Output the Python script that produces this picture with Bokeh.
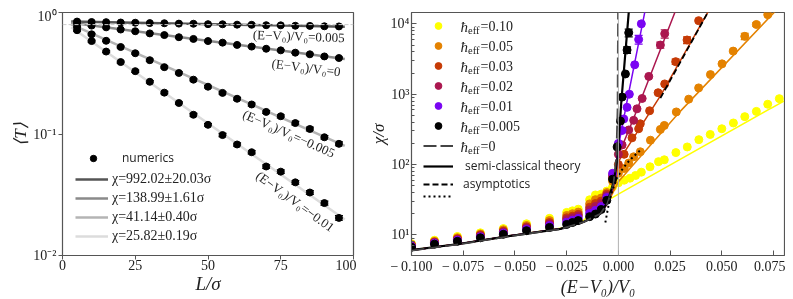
from bokeh.plotting import figure
from bokeh.layouts import row
from bokeh.models import (ColumnDataSource, Whisker, TeeHead, Legend, LegendItem,
                          FixedTicker, CustomJSTickFormatter, Span, Label)
from bokeh.core.properties import value
from bokeh.embed import file_html
from bokeh.resources import INLINE

SERIF = "Liberation Serif"
SANS = "Open Sans"
INK = "#222222"
FRAME = "#555555"

# ---------------- left panel: transmission vs length ----------------
L = [5, 10, 15, 20, 25, 30, 35, 40, 45, 50, 55, 60, 65, 70, 75, 80, 85, 90, 95]
T_p0005 = [0.842, 0.835, 0.833, 0.827, 0.824, 0.818, 0.816, 0.810, 0.808, 0.802,
           0.800, 0.794, 0.792, 0.786, 0.784, 0.778, 0.776, 0.770, 0.768]
E_p0005 = [0.009, 0.009, 0.009, 0.009, 0.009, 0.009, 0.009, 0.009, 0.009, 0.009,
           0.009, 0.009, 0.009, 0.009, 0.009, 0.009, 0.009, 0.009, 0.009]
T_0 = [0.812, 0.780, 0.755, 0.724, 0.701, 0.673, 0.652, 0.626, 0.606, 0.582,
       0.565, 0.541, 0.524, 0.503, 0.488, 0.467, 0.453, 0.435, 0.422]
E_0 = [0.010, 0.010, 0.009, 0.009, 0.009, 0.009, 0.008, 0.008, 0.008, 0.008,
       0.008, 0.008, 0.008, 0.007, 0.007, 0.007, 0.007, 0.007, 0.007]
T_m0005 = [0.760, 0.662, 0.585, 0.520, 0.462, 0.405, 0.355, 0.318, 0.280, 0.245,
           0.218, 0.195, 0.175, 0.152, 0.140, 0.123, 0.110, 0.094, 0.083]
E_m0005 = [0.012, 0.011, 0.010, 0.009, 0.008, 0.008, 0.007, 0.006, 0.006, 0.005,
           0.005, 0.005, 0.005, 0.004, 0.004, 0.004, 0.004, 0.003, 0.003]
T_m001 = [0.715, 0.582, 0.477, 0.391, 0.329, 0.269, 0.219, 0.180, 0.144, 0.119,
          0.098, 0.082, 0.0708, 0.054, 0.049, 0.040, 0.033, 0.027, 0.0204]
E_m001 = [0.012, 0.011, 0.009, 0.008, 0.007, 0.006, 0.005, 0.004, 0.004, 0.003,
          0.003, 0.0025, 0.0022, 0.0018, 0.0016, 0.0014, 0.0012, 0.0010, 0.0009]

fit_L = [3, 97]
fit_p0005 = [0.842, 0.765]
fit_0 = [0.822, 0.415]
fit_m0005 = [0.798, 0.080]
fit_m001 = [0.756, 0.0198]
fit_labels = ["χ=992.02±20.03σ", "χ=138.99±1.61σ", "χ=41.14±0.40σ", "χ=25.82±0.19σ"]
fit_colors = ["#555555", "#8a8a8a", "#b4b4b4", "#dcdcdc"]

ref_T = 0.795  # faint horizontal reference line

annot_text = ["(E−V₀)/V₀=0.005", "(E−V₀)/V₀=0", "(E−V₀)/V₀=−0.005", "(E−V₀)/V₀=−0.01"]
annot_L = [97.0, 95.5, 77.8, 80.0]
annot_T = [0.62, 0.325, 0.101, 0.0279]
annot_angle = [-2, -7, -24, -36]

L_ticks = [0, 25, 50, 75, 100]
T_ticks = [0.01, 0.1, 1.0]

# ---------------- right panel: chi vs energy ----------------
XL = [-0.1, -0.0889, -0.0778, -0.0667, -0.0556, -0.0444, -0.0333, -0.025, -0.0222,
      -0.0194, -0.0139, -0.0111, -0.0083, -0.0056, -0.0028]

x_h010 = XL + [0.0, 0.0028, 0.0056, 0.0083, 0.0111, 0.0153, 0.0194, 0.0222, 0.0278,
               0.0333, 0.0389, 0.0444, 0.05, 0.0556, 0.0611, 0.0667, 0.0722, 0.0778]
y_h010 = [7.5, 8.4, 9.5, 10.7, 12.3, 14.4, 17.2, 20.9, 22.0, 23.2, 31.6, 37, 38, 42, 48,
          55, 60, 64, 70, 78, 93, 110, 117, 148, 178, 226, 268, 323, 390, 480, 570, 720, 865]
x_h005 = XL + [0.0, 0.0028, 0.005, 0.0074, 0.0106, 0.0155, 0.0203, 0.0222, 0.028, 0.034,
               0.0388, 0.0445, 0.0501, 0.0555, 0.0611, 0.0667, 0.0722]
y_h005 = [7.3, 8.1, 9.1, 10.3, 11.8, 13.6, 16.0, 18.9, 20.0, 21.1, 27.6, 31.7, 33.5, 40, 58,
          75, 88, 105, 129, 152, 222, 316, 360, 560, 850, 1230, 1900, 2700, 4100, 6650, 9800, 13500]
x_h003 = XL + [0.0, 0.0028, 0.0066, 0.0098, 0.0106, 0.0151, 0.0192, 0.0224, 0.0277, 0.0332, 0.0388]
y_h003 = [7.1, 7.9, 8.8, 10.0, 11.3, 13.0, 15.0, 17.5, 18.5, 19.6, 24.7, 27.9, 30.3, 38, 65,
          100, 140, 240, 323, 380, 582, 1050, 1400, 2900, 5900, 11100]
x_h002 = XL + [0.0, 0.0018, 0.005, 0.0074, 0.009, 0.0115, 0.0147, 0.0203, 0.0224]
y_h002 = [7.0, 7.8, 8.6, 9.7, 11.0, 12.6, 14.4, 16.5, 17.5, 18.6, 22.7, 25.4, 28.1, 36, 70,
          140, 190, 310, 425, 620, 870, 1790, 5000, 7250]
x_h001 = XL + [0.0, 0.0018, 0.0026, 0.0042, 0.0053, 0.0079, 0.0098, 0.0111]
y_h001 = [6.85, 7.6, 8.4, 9.4, 10.6, 12.0, 13.6, 15.2, 16.2, 17.2, 20.3, 22.4, 25.4, 34, 75,
          200, 305, 445, 650, 1000, 2620, 6000, 10000]
x_h0005 = XL + [-0.0006, 0.001, 0.0018, 0.0034, 0.0042, 0.005]
y_h0005 = [6.7, 7.4, 8.1, 9.1, 10.2, 11.5, 12.8, 14.1, 15.0, 16.0, 18.2, 19.8, 23, 31, 62,
           178, 415, 910, 1940, 4250, 7480]

# points with visible error bars
eb_x = [0.005, 0.0042, 0.0098, 0.0224, 0.0203, 0.0332, 0.0277, 0.0611, 0.0667]
eb_y = [7480, 4250, 6000, 7250, 5000, 5900, 2900, 6650, 9800]
eb_err = [950, 450, 850, 1000, 500, 650, 250, 700, 600]
eb_series = ["0.005", "0.005", "0.01", "0.02", "0.02", "0.03", "0.03", "0.05", "0.05"]

# semi-classical theory curves
th_x_h010 = [-0.1, -0.0764, -0.0522, -0.028, -0.0169, -0.0087, 0.0, 0.08]
th_y_h010 = [6.1, 7.5, 9.7, 12.4, 16.0, 27.0, 38.0, 800.0]
th_x_h005 = [-0.1, -0.0764, -0.0522, -0.028, -0.0169, -0.0087, -0.004, 0.0, 0.03, 0.0775]
th_y_h005 = [6.07, 7.5, 9.7, 12.2, 15.3, 20.0, 33.0, 57.0, 575.0, 17000.0]
th_x_h003 = [-0.1, -0.0764, -0.0522, -0.028, -0.0169, -0.0087, -0.0053, -0.0024, 0.0, 0.0203, 0.0445]
th_y_h003 = [6.07, 7.5, 9.7, 12.2, 15.3, 20.0, 28.0, 45.0, 110.0, 945.0, 17000.0]
th_x_h002 = [-0.1, -0.0764, -0.0522, -0.028, -0.0169, -0.0087, -0.0053, -0.0024, 0.0, 0.0073, 0.0282]
th_y_h002 = [6.07, 7.5, 9.7, 12.2, 15.3, 20.0, 28.0, 50.0, 135.0, 447.0, 17000.0]
th_x_h001 = [-0.1, -0.0764, -0.0522, -0.028, -0.0169, -0.0087, -0.0053, -0.0024, 0.0, 0.0042, 0.0132]
th_y_h001 = [6.07, 7.5, 9.7, 12.2, 15.3, 20.0, 29.0, 50.0, 180.0, 800.0, 17000.0]
th_x_h0005 = [-0.1, -0.0764, -0.0522, -0.028, -0.0169, -0.0087, -0.0053, -0.0024, -0.0005, 0.00145, 0.0052]
th_y_h0005 = [6.07, 7.5, 9.7, 12.2, 15.3, 20.0, 29.0, 55.0, 117.0, 800.0, 17000.0]

# hbar_eff = 0 (classical) curve
cl_x = [-0.1, -0.0764, -0.0522, -0.028, -0.0169, -0.0087, -0.0053, -0.0024, -0.001, -0.0004, -0.00015]
cl_y = [6.0, 7.4, 9.6, 12.1, 15.2, 20.0, 28.0, 52.0, 130.0, 600.0, 20000.0]

# asymptotics
as_dash_x = [0.0203, 0.045]
as_dash_y = [880.0, 18000.0]
as_dot_x = [-0.0063, -0.0047, -0.003, -0.0006, 0.0018, 0.0042, 0.0066, 0.009, 0.0106]
as_dot_y = [15, 27, 42, 65, 85, 105, 124, 145, 160]

zero_x = 0.0
hbar_labels = ["0.10", "0.05", "0.03", "0.02", "0.01", "0.005"]
hbar_colors = ["#ffff00", "#e48200", "#c63a05", "#ab174f", "#7a05f2", "#000000"]

E_ticks = [-0.1, -0.075, -0.05, -0.025, 0.0, 0.025, 0.05, 0.075]
chi_ticks = [10, 100, 1000, 10000]
chi_minor = [m * 10 ** k for k in range(0, 5) for m in range(2, 10)]

LOG_FMT = """
const sup = {'-':'\u207b','0':'\u2070','1':'\u00b9','2':'\u00b2','3':'\u00b3','4':'\u2074','5':'\u2075'};
const e = Math.round(Math.log10(tick));
return '10' + String(e).split('').map(c => sup[c]).join('');
"""
E_FMT = "const v = Math.abs(tick) < 1e-9 ? 0 : tick; return (v < 0 ? '\u2212\u2009' : '') + Math.abs(v).toFixed(3);"


def style_axis(ax, inward):
    ax.axis_line_color = FRAME
    ax.major_tick_line_color = FRAME
    ax.minor_tick_line_color = FRAME
    ax.major_label_text_font = SERIF
    ax.major_label_text_font_size = "14px"
    ax.major_label_text_color = INK
    ax.axis_label_text_font = SERIF
    ax.axis_label_text_font_style = "italic"
    ax.axis_label_text_color = INK
    ax.axis_label_standoff = 0
    ax.major_label_standoff = 2
    if inward:
        ax.major_tick_in = 5
        ax.major_tick_out = 0
        ax.minor_tick_in = 3
        ax.minor_tick_out = 0
    else:
        ax.major_tick_in = 0
        ax.major_tick_out = 4
        ax.minor_tick_in = 0
        ax.minor_tick_out = 0


def frame_style(p):
    p.xgrid.visible = False
    p.ygrid.visible = False
    p.outline_line_color = FRAME
    p.outline_line_width = 1.2


H = 291

# ================= left figure =================
p1 = figure(width=348, height=H, x_range=(0, 100), y_range=(0.01, 1.0),
            y_axis_type="log", output_backend="svg", toolbar_location=None,
            min_border_left=54, min_border_right=3, min_border_top=4, min_border_bottom=H - 251)
frame_style(p1)
style_axis(p1.xaxis[0], inward=False)
style_axis(p1.yaxis[0], inward=False)
p1.xaxis.major_label_standoff = 0
p1.xaxis.ticker = FixedTicker(ticks=L_ticks)
p1.yaxis.ticker = FixedTicker(ticks=T_ticks, minor_ticks=[])
p1.yaxis.formatter = CustomJSTickFormatter(code=LOG_FMT)
p1.yaxis.axis_label = "⟨T⟩"
p1.yaxis.axis_label_text_font_size = "17px"
p1.xaxis.axis_label = "L/σ"
p1.xaxis.axis_label_text_font_size = "19px"

p1.add_layout(Span(location=ref_T, dimension="width", line_color="#cccccc",
                   line_width=1, line_dash="4 2"))

fit_renderers = []
for fy, col in zip([fit_p0005, fit_0, fit_m0005, fit_m001], fit_colors):
    fit_renderers.append(p1.line(fit_L, fy, line_color=col, line_width=2.5))

num_renderer = None
for T, E in [(T_p0005, E_p0005), (T_0, E_0), (T_m0005, E_m0005), (T_m001, E_m001)]:
    src = ColumnDataSource(dict(L=L, T=T, lo=[t - e for t, e in zip(T, E)],
                                hi=[t + e for t, e in zip(T, E)]))
    p1.add_layout(Whisker(source=src, base="L", lower="lo", upper="hi", dimension="height",
                          line_color="black", line_width=1.2,
                          lower_head=TeeHead(size=8, line_color="black", line_width=1.2),
                          upper_head=TeeHead(size=8, line_color="black", line_width=1.2)))
    r = p1.scatter("L", "T", source=src, size=7, color="black")
    if num_renderer is None:
        num_renderer = r

asrc_r = ColumnDataSource(dict(x=annot_L[:2], y=annot_T[:2], t=annot_text[:2], a=annot_angle[:2]))
p1.text("x", "y", text="t", angle="a", angle_units="deg", source=asrc_r,
        text_font=value(SERIF), text_font_size="13px", text_color=INK,
        text_align="right", text_baseline="middle")
asrc_c = ColumnDataSource(dict(x=annot_L[2:], y=annot_T[2:], t=annot_text[2:], a=annot_angle[2:]))
p1.text("x", "y", text="t", angle="a", angle_units="deg", source=asrc_c,
        text_font=value(SERIF), text_font_size="13px", text_color=INK,
        text_align="center", text_baseline="middle")

leg_num = Legend(items=[LegendItem(label="numerics", renderers=[num_renderer])],
                 location=(14, 89), padding=0, margin=0, spacing=0,
                 glyph_width=34, glyph_height=16, label_height=16, label_standoff=12,
                 label_text_font=SANS, label_text_font_size="12px", label_text_color=INK,
                 background_fill_alpha=0, border_line_alpha=0)
leg_fit = Legend(items=[LegendItem(label=lab, renderers=[r]) for lab, r in zip(fit_labels, fit_renderers)],
                 location=(13, 11), padding=0, margin=0, spacing=3,
                 glyph_width=33, glyph_height=16, label_height=16, label_standoff=4,
                 label_text_font=SERIF, label_text_font_size="14px", label_text_color=INK,
                 background_fill_alpha=0, border_line_alpha=0)
p1.add_layout(leg_num)
p1.add_layout(leg_fit)

# ================= right figure =================
p2 = figure(width=429, height=H, x_range=(-0.1, 0.0803), y_range=(5.1, 14500),
            y_axis_type="log", output_backend="svg", toolbar_location=None,
            min_border_left=55, min_border_right=1, min_border_top=2, min_border_bottom=H - 249)
frame_style(p2)
style_axis(p2.xaxis[0], inward=True)
style_axis(p2.yaxis[0], inward=True)
p2.xaxis.major_label_standoff = 3
p2.xaxis.ticker = FixedTicker(ticks=E_ticks)
p2.xaxis.formatter = CustomJSTickFormatter(code=E_FMT)
p2.yaxis.ticker = FixedTicker(ticks=chi_ticks, minor_ticks=chi_minor)
p2.yaxis.formatter = CustomJSTickFormatter(code=LOG_FMT)
p2.yaxis.axis_label = "χ/σ"
p2.yaxis.axis_label_text_font_size = "17px"
p2.xaxis.axis_label = "(E−V₀)/V₀"
p2.xaxis.axis_label_text_font_size = "18px"

p2.add_layout(Span(location=zero_x, dimension="height", line_color="#b0b0b0", line_width=1))

series = [(x_h010, y_h010, th_x_h010, th_y_h010),
          (x_h005, y_h005, th_x_h005, th_y_h005),
          (x_h003, y_h003, th_x_h003, th_y_h003),
          (x_h002, y_h002, th_x_h002, th_y_h002),
          (x_h001, y_h001, th_x_h001, th_y_h001),
          (x_h0005, y_h0005, th_x_h0005, th_y_h0005)]

dot_renderers = []
theory_black = None
for (xs, ys, tx, ty), lab, col in zip(series, hbar_labels, hbar_colors):
    sel = [i for i, s in enumerate(eb_series) if s == lab]
    if sel:
        esrc = ColumnDataSource(dict(x=[eb_x[i] for i in sel],
                                     lo=[eb_y[i] - eb_err[i] for i in sel],
                                     hi=[eb_y[i] + eb_err[i] for i in sel]))
        p2.add_layout(Whisker(source=esrc, base="x", lower="lo", upper="hi", dimension="height",
                              line_color=col, line_width=1.2,
                              lower_head=TeeHead(size=8, line_color=col, line_width=1.2),
                              upper_head=TeeHead(size=8, line_color=col, line_width=1.2)))
    dot_renderers.append(p2.scatter(xs, ys, size=8, color=col))
    lr = p2.line(tx, ty, line_color=col, line_width=2.2 if col == "#000000" else 1.5)
    if col == "#000000":
        theory_black = lr

cl_r = p2.line(cl_x, cl_y, line_color="#444444", line_width=1.8, line_dash="13 4")
asd_r = p2.line(as_dash_x, as_dash_y, line_color="black", line_width=1.8, line_dash="6 3")
aso_r = p2.line(as_dot_x, as_dot_y, line_color="black", line_width=2.0, line_dash="2 3")

leg_h = Legend(items=[LegendItem(label=" ", renderers=[r]) for r in dot_renderers] +
               [LegendItem(label=" ", renderers=[cl_r])],
               location=(12, 101), padding=0, margin=0, spacing=3,
               glyph_width=30, glyph_height=17, label_height=17, label_width=0, label_standoff=0,
               label_text_font_size="6px",
               background_fill_alpha=0, border_line_alpha=0)
p2.add_layout(leg_h)

hbar_legend_labels = ["=" + s for s in hbar_labels] + ["=0"]
for i, lab in enumerate(hbar_legend_labels):
    yc = 229 - 20 * i
    p2.add_layout(Label(x=49, y=yc, x_units="screen", y_units="screen", text="ħ",
                        text_font=SERIF, text_font_style="italic", text_font_size="15px",
                        text_color=INK, text_baseline="middle"))
    p2.add_layout(Label(x=56.5, y=yc - 4, x_units="screen", y_units="screen", text="eff",
                        text_font=SERIF, text_font_size="10.5px",
                        text_color=INK, text_baseline="middle"))
    p2.add_layout(Label(x=69, y=yc, x_units="screen", y_units="screen", text=lab,
                        text_font=SERIF, text_font_size="14px",
                        text_color=INK, text_baseline="middle"))

leg_sc = Legend(items=[LegendItem(label="semi-classical theory", renderers=[theory_black])],
                location=(12, 81), padding=0, margin=0, spacing=0,
                glyph_width=30, glyph_height=12, label_height=12, label_standoff=12,
                label_text_font=SANS, label_text_font_size="12px", label_text_color=INK,
                background_fill_alpha=0, border_line_alpha=0)
leg_as = Legend(items=[LegendItem(label="asymptotics", renderers=[asd_r]),
                       LegendItem(label=" ", renderers=[aso_r])],
                location=(12, 55), padding=0, margin=0, spacing=0,
                glyph_width=30, glyph_height=8, label_height=8, label_standoff=10,
                label_text_font=SANS, label_text_font_size="12px", label_text_color=INK,
                background_fill_alpha=0, border_line_alpha=0)
p2.add_layout(leg_sc)
p2.add_layout(leg_as)

# fixed positioning keeps the page from gaining a scrollbar (it sits at the 8px margin)
layout = row(p1, p2, styles={"position": "fixed", "top": "8px", "left": "8px"})
open("out.html", "w").write(file_html(layout, INLINE))
